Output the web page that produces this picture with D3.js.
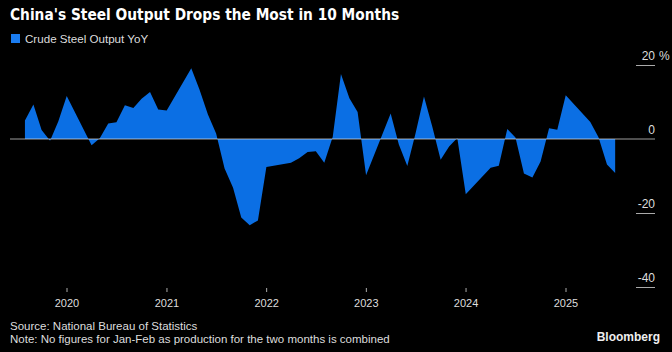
<!DOCTYPE html>
<html>
<head>
<meta charset="utf-8">
<script src="https://cdn.jsdelivr.net/npm/d3@7"></script>
<style>
  html, body { margin: 0; padding: 0; background: #000; }
  svg { display: block; }
</style>
</head>
<body>
<div id="chart"></div>
<script>
// monthly readings (Jan-Feb are not published separately)
const months = [
  "2019-07", "2019-08", "2019-09", "2019-10", "2019-11", "2019-12",
  "2020-03", "2020-04", "2020-05", "2020-06", "2020-07", "2020-08", "2020-09", "2020-10", "2020-11", "2020-12",
  "2021-03", "2021-04", "2021-05", "2021-06", "2021-07", "2021-08", "2021-09", "2021-10", "2021-11", "2021-12",
  "2022-03", "2022-04", "2022-05", "2022-06", "2022-07", "2022-08", "2022-09", "2022-10", "2022-11", "2022-12",
  "2023-03", "2023-04", "2023-05", "2023-06", "2023-07", "2023-08", "2023-09", "2023-10", "2023-11", "2023-12",
  "2024-03", "2024-04", "2024-05", "2024-06", "2024-07", "2024-08", "2024-09", "2024-10", "2024-11", "2024-12",
  "2025-03", "2025-04", "2025-05", "2025-06"
]
const yoyValues = [
  5.0, 9.3, 2.4, -0.5, 4.7, 11.6,
  -1.7, 0.2, 4.2, 4.5, 9.1, 8.4, 10.9, 12.7, 8.0, 7.7,
  19.1, 13.4, 6.6, 1.5, -8.0, -13.2, -21.2, -23.3, -22.0, -7.6,
  -6.4, -5.2, -3.5, -3.3, -6.4, 0.6, 17.6, 11.0, 7.3, -9.8,
  6.9, -1.5, -7.3, 1.5, 11.5, 3.2, -5.6, -2.0, 0.3, -14.9,
  -7.8, -7.2, 2.7, 0.4, -9.3, -10.4, -6.1, 2.9, 2.5, 11.8,
  4.6, 0.5, -6.9, -9.2
]
const yTicks = [20, 0, -20, -40]
const xTickYears = [2020, 2021, 2022, 2023, 2024, 2025]

const width = 672
const height = 352
const font = "'Liberation Sans', Arial, sans-serif"
const blue = "#0b6fe4"

// points sit on the last day of their month
const data = months.map((m, i) => {
  const [yr, mo] = m.split("-").map(Number)
  return { date: new Date(Date.UTC(yr, mo, 0)), value: yoyValues[i] }
})

const x = d3.scaleUtc()
  .domain([new Date(Date.UTC(2020, 0, 1)), new Date(Date.UTC(2025, 0, 1))])
  .range([67, 566])

const y = d3.scaleLinear()
  .domain([-40, 20])
  .range([287, 65])

const svg = d3.select("#chart")
  .append("svg")
  .attr("width", width)
  .attr("height", height)
  .style("background", "#000")

// title + legend
svg.append("text")
  .attr("x", 10)
  .attr("y", 20)
  .text("China's Steel Output Drops the Most in 10 Months")
  .style("font", "bold 15.3px 'DejaVu Sans Condensed', 'DejaVu Sans', sans-serif")
  .style("fill", "#fff")

svg.append("rect")
  .attr("x", 11)
  .attr("y", 34)
  .attr("width", 9)
  .attr("height", 9)
  .style("fill", "#1a7cf0")

svg.append("text")
  .attr("x", 25)
  .attr("y", 43)
  .text("Crude Steel Output YoY")
  .style("font", "11.6px " + font)
  .style("fill", "#ddd")

// area
const area = d3.area()
  .x(d => x(d.date))
  .y0(y(0))
  .y1(d => y(d.value))

svg.append("path")
  .datum(data)
  .attr("d", area)
  .style("fill", blue)

// zero line
svg.append("line")
  .attr("x1", 10)
  .attr("x2", 655)
  .attr("y1", y(0))
  .attr("y2", y(0))
  .style("stroke", "#e0e0e0")
  .style("stroke-opacity", 0.7)
  .style("stroke-width", 1)

// right axis: short ticks with labels sitting above
const yAxis = svg.append("g")
yAxis.selectAll(".ytick")
  .data(yTicks.filter(d => d !== 0))
  .enter().append("line")
  .attr("x1", 636)
  .attr("x2", 655)
  .attr("y1", d => y(d) + 0.5)
  .attr("y2", d => y(d) + 0.5)
  .style("stroke", "#aaa")
  .style("stroke-width", 1)

yAxis.selectAll(".ylabel")
  .data(yTicks)
  .enter().append("text")
  .attr("text-anchor", "end")
  .attr("x", 655)
  .attr("y", d => y(d) - 5)
  .text(d => d)
  .style("font", "12px " + font)
  .style("fill", "#ddd")

yAxis.append("text")
  .attr("x", 659)
  .attr("y", y(20) - 5)
  .text("%")
  .style("font", "12px " + font)
  .style("fill", "#ddd")

// bottom axis
const xAxis = svg.append("g")
xAxis.selectAll(".xtick")
  .data(xTickYears)
  .enter().append("line")
  .attr("x1", d => x(new Date(Date.UTC(d, 0, 1))))
  .attr("x2", d => x(new Date(Date.UTC(d, 0, 1))))
  .attr("y1", 288)
  .attr("y2", 292)
  .style("stroke", "#aaa")
  .style("stroke-width", 1)

xAxis.selectAll(".xlabel")
  .data(xTickYears)
  .enter().append("text")
  .attr("text-anchor", "middle")
  .attr("x", d => x(new Date(Date.UTC(d, 0, 1))))
  .attr("y", 307)
  .text(d => d)
  .style("font", "11px " + font)
  .style("fill", "#ddd")

// footer
svg.append("text")
  .attr("x", 10)
  .attr("y", 330)
  .text("Source: National Bureau of Statistics")
  .style("font", "11.5px " + font)
  .style("fill", "#ddd")

svg.append("text")
  .attr("x", 10)
  .attr("y", 343)
  .text("Note: No figures for Jan-Feb as production for the two months is combined")
  .style("font", "11.5px " + font)
  .style("fill", "#ddd")

svg.append("text")
  .attr("text-anchor", "end")
  .attr("x", 660)
  .attr("y", 341)
  .text("Bloomberg")
  .style("font", "bold 12px " + font)
  .style("fill", "#eee")
</script>
</body>
</html>
